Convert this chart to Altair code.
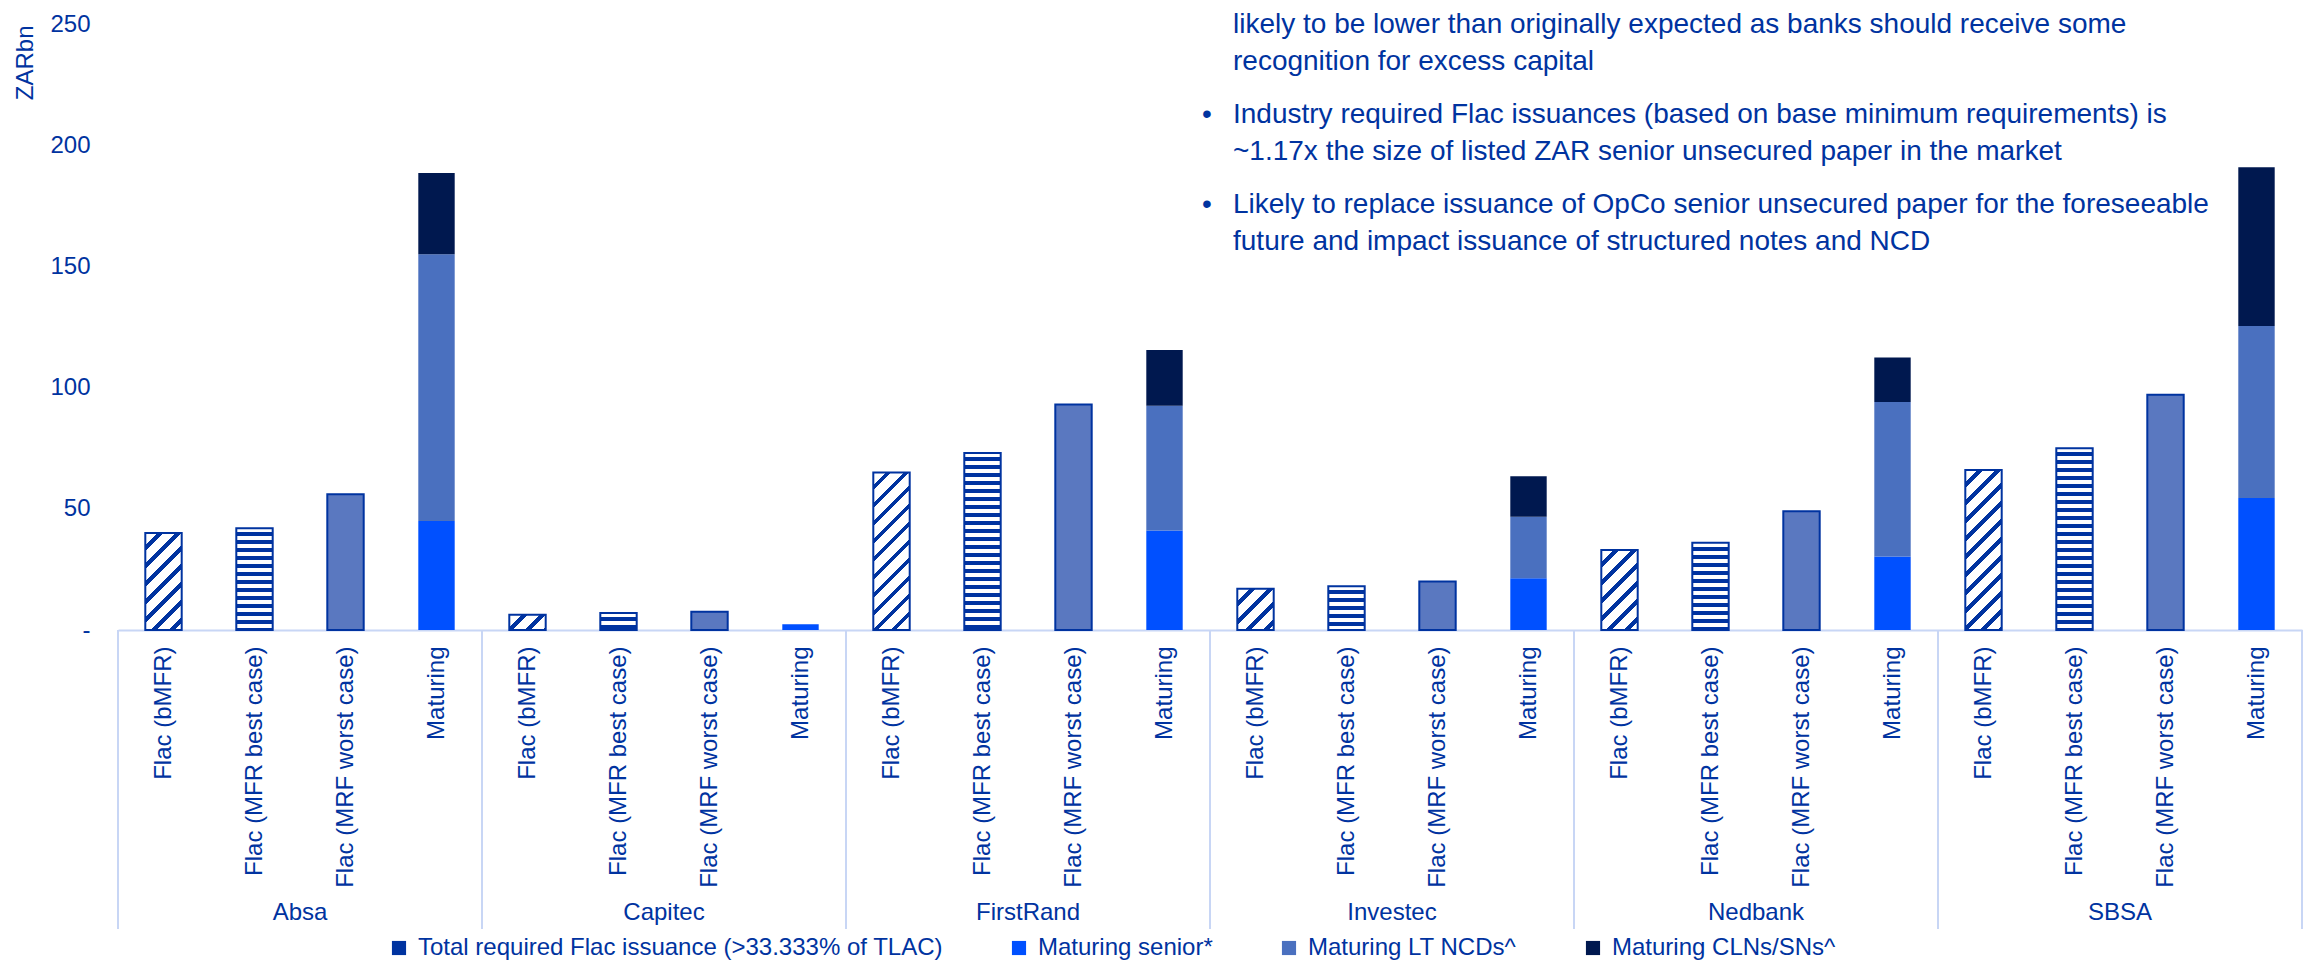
import altair as alt
import pandas as pd

# ---------------- data ----------------
banks = ["Absa", "Capitec", "FirstRand", "Investec", "Nedbank", "SBSA"]
categories = ["Flac (bMFR)", "Flac (MFR best case)", "Flac (MRF worst case)", "Maturing"]
flac_bmfr = [40, 6.3, 65, 17, 33, 66]
flac_best = [42, 7, 73, 18, 36, 75]
flac_worst = [56, 7.5, 93, 20, 49, 97]
mat_senior = [45, 2.4, 41, 21.4, 30.3, 54.5]
mat_ncd = [110, 0, 51.5, 25.3, 63.8, 70.9]
mat_cln = [33.5, 0, 23, 16.7, 18.3, 65.5]
series = ["Total required Flac issuance (>33.333% of TLAC)", "Maturing senior*",
          "Maturing LT NCDs^", "Maturing CLNs/SNs^"]
series_colors = ["#0033A0", "#0050FF", "#4A70BF", "#00184F"]
y_ticks = [0, 50, 100, 150, 200, 250]
note_paragraphs = [
    (False, ["likely to be lower than originally expected as banks should receive some",
             "recognition for excess capital"]),
    (True, ["Industry required Flac issuances (based on base minimum requirements) is",
            "~1.17x the size of listed ZAR senior unsecured paper in the market"]),
    (True, ["Likely to replace issuance of OpCo senior unsecured paper for the foreseeable",
            "future and impact issuance of structured notes and NCD"]),
]

# ---------------- style / layout ----------------
FONT = "Liberation Sans"
TXT = "#0033A0"
BLUE = "#0033A0"
WHITE = "#FFFFFF"
LINE = "#C8D6F5"
CHECKER = "#5A78C0"
W, H = 2184, 606
YMAX = 250
keys = [f"{b}|{c}" for b in banks for c in categories]
step = W / len(keys)
bw = step * 0.4
ppu = H / YMAX


def stripe_stops(length, period, on):
    stops = []
    pos = 0.0
    while pos < length - 1e-9:
        a = pos / length
        b = min((pos + period - on) / length, 1.0)
        c = min((pos + period) / length, 1.0)
        stops += [(a, WHITE), (b, WHITE), (b, BLUE), (c, BLUE)]
        pos += period
    return [{"offset": round(o, 6), "color": col} for o, col in stops]


def hstripe_fill(value):
    h = max(value * ppu, 1.0)
    return {"gradient": "linear", "x1": 0, "y1": 0, "x2": 0, "y2": 1,
            "stops": stripe_stops(h, 8.0, 4.0)}


def diag_fill(value):
    h = max(value * ppu, 1.0)
    L = bw + h
    d = bw * bw + h * h
    return {"gradient": "linear", "x1": 0, "y1": 0,
            "x2": round(bw * L / d, 6), "y2": round(h * L / d, 6),
            "stops": stripe_stops(L, 18.0, 5.5)}


def xenc():
    return alt.X("key:N",
                 scale=alt.Scale(domain=keys, paddingInner=0.6, paddingOuter=0.3),
                 axis=alt.Axis(title=None, labelExpr="split(datum.label, '|')[1]",
                               labelAngle=-90, labelFontSize=24, labelFont=FONT,
                               labelColor=TXT, labelLimit=400, labelPadding=16,
                               ticks=False, tickSize=0, grid=False,
                               domainColor=LINE, domainWidth=2, labelOverlap=False))


def yenc():
    return alt.Y("value:Q",
                 scale=alt.Scale(domain=[0, YMAX], nice=False),
                 axis=alt.Axis(values=y_ticks, title="ZARbn",
                               labelExpr="datum.value == 0 ? '-\u00a0\u00a0' : datum.label",
                               labelFontSize=24, labelFont=FONT, labelColor=TXT,
                               labelPadding=28, ticks=False, tickSize=0, domain=False,
                               grid=False, titleFontSize=24, titleFont=FONT,
                               titleColor=TXT, titleFontWeight="normal",
                               titleAngle=270, titleAlign="right", titleBaseline="middle",
                               titleX=-93, titleY=1))


# maturing (stacked)
mat_rows = []
for i, b in enumerate(banks):
    for j, (s, v) in enumerate(zip(series[1:], [mat_senior[i], mat_ncd[i], mat_cln[i]])):
        mat_rows.append({"bank": b, "key": f"{b}|Maturing", "series": s, "value": v, "ord": j})
mat_df = pd.DataFrame(mat_rows)

stack_layer = alt.Chart(mat_df).mark_bar().encode(
    x=xenc(),
    y=yenc(),
    color=alt.Color("series:N",
                    scale=alt.Scale(domain=series, range=series_colors),
                    legend=alt.Legend(title=None, orient="none", direction="horizontal",
                                      legendX=269, legendY=912, symbolType="square",
                                      symbolSize=200, symbolStrokeWidth=0,
                                      labelFontSize=24, labelFont=FONT, labelColor=TXT,
                                      labelLimit=900, columnPadding=64, labelOffset=7,
                                      padding=0)),
    order=alt.Order("ord:Q", sort="ascending"),
)

# flac requirement bars (patterned)
flac_rows = []
for i, b in enumerate(banks):
    for c, v in zip(categories[:3], [flac_bmfr[i], flac_best[i], flac_worst[i]]):
        flac_rows.append({"bank": b, "key": f"{b}|{c}", "cat": c, "value": v})
flac_df = pd.DataFrame(flac_rows)

pattern_layers = []
for r in flac_rows:
    if r["cat"] == categories[0]:
        fill = diag_fill(r["value"])
    elif r["cat"] == categories[1]:
        fill = hstripe_fill(r["value"])
    else:
        fill = CHECKER
    pattern_layers.append(
        alt.Chart(flac_df).transform_filter(alt.datum.key == r["key"])
        .mark_bar(fill=fill, stroke=BLUE, strokeWidth=2)
        .encode(x=xenc(), y=yenc())
    )

bars = alt.layer(stack_layer, *pattern_layers)

# group separators and labels
bank_df = pd.DataFrame({"bank": banks})


def bank_x(bp):
    return alt.X("bank:N", scale=alt.Scale(domain=banks, paddingInner=0, paddingOuter=0),
                 axis=None, bandPosition=bp)


sep = alt.Chart(bank_df).mark_rule(color=LINE, strokeWidth=2).encode(
    x=bank_x(0), y=alt.value(H), y2=alt.value(H + 299))
sep_end = alt.Chart(bank_df).transform_filter(alt.datum.bank == banks[-1]).mark_rule(
    color=LINE, strokeWidth=2).encode(x=bank_x(1), y=alt.value(H), y2=alt.value(H + 299))
grp = alt.Chart(bank_df).mark_text(fontSize=24, font=FONT, color=TXT, baseline="middle").encode(
    x=bank_x(0.5), y=alt.value(H + 283), text="bank:N")

# note text block
one = pd.DataFrame({"a": [0]})
text_layers = []
line_y = [1, 37.6, 91, 127.6, 181, 217.6]
k = 0
for bullet, lines in note_paragraphs:
    for li, line in enumerate(lines):
        text_layers.append(
            alt.Chart(one).mark_text(text=line, fontSize=28, font=FONT, color=TXT,
                                     align="left", baseline="middle")
            .encode(x=alt.value(1115), y=alt.value(line_y[k])))
        if bullet and li == 0:
            text_layers.append(
                alt.Chart(one).mark_text(text="\u2022", fontSize=28, font=FONT, color=TXT,
                                         align="left", baseline="middle")
                .encode(x=alt.value(1084), y=alt.value(line_y[k])))
        k += 1

chart = alt.layer(bars, sep, sep_end, grp, *text_layers).resolve_scale(
    x="independent"
).properties(
    width=W, height=H,
    autosize=alt.AutoSizeParams(type="none"),
    padding={"left": 110, "top": 16, "right": 5, "bottom": 330},
).configure_view(stroke=None)

chart.save("out.html", embed_options={"renderer": "svg", "actions": False})
